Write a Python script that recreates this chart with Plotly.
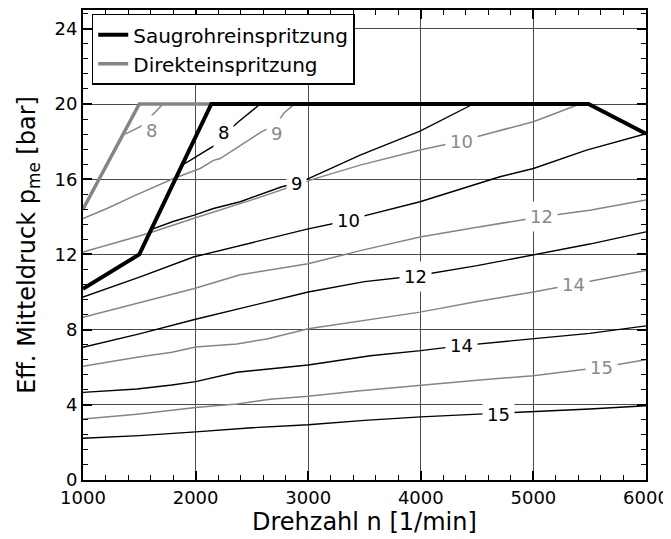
import plotly.graph_objects as go

# ---------------- data ----------------
# full-load boundaries
sri_bound_x = [1000, 1500, 2140, 5490, 6000]
sri_bound_y = [10.17, 12.0, 20.0, 20.0, 18.42]
di_bound_x = [1000, 1500, 2140]
di_bound_y = [14.4, 20.0, 20.0]

# Saugrohreinspritzung contour lines (black)
sri_8_x = [1878, 1952, 2100, 2174, 2248, 2381, 2575]
sri_8_y = [16.75, 17.0, 17.55, 17.81, 18.35, 19.06, 20.0]
sri_9_x = [1597, 1800, 1981, 2159, 2396, 2766, 2899, 3017, 3461, 3993, 4466]
sri_9_y = [13.3, 13.75, 14.08, 14.44, 14.8, 15.6, 15.8, 16.07, 17.28, 18.56, 20.0]
sri_10_x = [1000, 1508, 1981, 2396, 3000, 3354, 3462, 3993, 4703, 5000, 5472, 6000]
sri_10_y = [9.73, 10.8, 11.86, 12.48, 13.36, 13.8, 14.0, 14.8, 16.13, 16.57, 17.55, 18.42]
sri_12_x = [1000, 1500, 2000, 2396, 3000, 3500, 3950, 4500, 5000, 5500, 6000]
sri_12_y = [7.06, 7.77, 8.55, 9.14, 10.0, 10.55, 10.85, 11.4, 11.98, 12.55, 13.2]
sri_14_x = [1000, 1479, 1790, 2000, 2366, 3000, 3551, 4000, 4363, 5000, 5500, 6000]
sri_14_y = [4.66, 4.84, 5.05, 5.23, 5.73, 6.12, 6.61, 6.88, 7.15, 7.5, 7.8, 8.2]
sri_15_x = [1000, 1500, 2000, 2500, 3000, 3500, 4000, 4688, 5000, 5500, 6000]
sri_15_y = [2.22, 2.36, 2.56, 2.78, 2.94, 3.17, 3.36, 3.55, 3.63, 3.78, 3.95]

# Direkteinspritzung contour lines (grey)
di_8_x = [1376, 1508, 1575, 1643, 1701, 1710]
di_8_y = [18.4, 18.8, 19.15, 19.6, 19.95, 20.0]
di_9_x = [1000, 1213, 1449, 1804, 2041, 2159, 2218, 2396, 2588, 2721, 2780, 2869, 2880]
di_9_y = [13.9, 14.44, 15.1, 16.04, 16.57, 17.0, 17.1, 17.8, 18.53, 18.9, 19.5, 19.95, 20.0]
di_10_x = [1000, 1568, 2000, 2500, 3017, 3461, 3993, 4363, 4496, 5000, 5413]
di_10_y = [12.13, 13.1, 13.95, 14.9, 15.95, 16.75, 17.55, 18.03, 18.26, 19.06, 20.0]
di_12_x = [1000, 1500, 1981, 2396, 3000, 3462, 3993, 4500, 5073, 5500, 6000]
di_12_y = [8.66, 9.45, 10.17, 10.92, 11.5, 12.2, 12.93, 13.45, 14.0, 14.35, 14.9]
di_14_x = [1000, 1479, 1790, 2000, 2366, 2632, 3000, 3462, 3993, 4500, 5000, 5353, 6000]
di_14_y = [6.05, 6.53, 6.8, 7.07, 7.24, 7.5, 8.04, 8.44, 8.93, 9.5, 10.0, 10.4, 11.15]
di_15_x = [1000, 1479, 2000, 2366, 2662, 3000, 3462, 4000, 4500, 5000, 5605, 6000]
di_15_y = [3.24, 3.5, 3.86, 4.04, 4.3, 4.45, 4.75, 5.05, 5.3, 5.55, 6.0, 6.4]

# contour label positions
sri_label_text = ["8", "9", "10", "12", "14", "15"]
sri_label_x = [2248, 2899, 3354, 3950, 4363, 4688]
sri_label_y = [18.5, 15.77, 13.8, 10.8, 7.15, 3.5]
di_label_text = ["8", "9", "10", "12", "14", "15"]
di_label_x = [1612, 2721, 4363, 5073, 5353, 5605]
di_label_y = [18.6, 18.44, 18.03, 14.0, 10.4, 6.0]

x_ticks = [1000, 2000, 3000, 4000, 5000, 6000]
y_ticks = [0, 4, 8, 12, 16, 20, 24]

# ---------------- figure ----------------
BLACK = "#000000"
GREY = "#858585"
FONT = "DejaVu Sans"

fig = go.Figure()

di_lines = [(di_8_x, di_8_y), (di_9_x, di_9_y), (di_10_x, di_10_y),
            (di_12_x, di_12_y), (di_14_x, di_14_y), (di_15_x, di_15_y)]
sri_lines = [(sri_8_x, sri_8_y), (sri_9_x, sri_9_y), (sri_10_x, sri_10_y),
             (sri_12_x, sri_12_y), (sri_14_x, sri_14_y), (sri_15_x, sri_15_y)]

for xs, ys in di_lines:
    fig.add_trace(go.Scatter(x=xs, y=ys, mode="lines", showlegend=False,
                             line=dict(color=GREY, width=1.5), hoverinfo="skip"))
for xs, ys in sri_lines:
    fig.add_trace(go.Scatter(x=xs, y=ys, mode="lines", showlegend=False,
                             line=dict(color=BLACK, width=1.4), hoverinfo="skip"))

fig.add_trace(go.Scatter(x=di_bound_x, y=di_bound_y, mode="lines",
                         name="Direkteinspritzung",
                         line=dict(color=GREY, width=3.5)))
fig.add_trace(go.Scatter(x=sri_bound_x, y=sri_bound_y, mode="lines",
                         name="Saugrohreinspritzung",
                         line=dict(color=BLACK, width=4)))

annotations = []
for t, x, y in zip(sri_label_text, sri_label_x, sri_label_y):
    annotations.append(dict(x=x, y=y, xref="x", yref="y", text=t, showarrow=False,
                            font=dict(family=FONT, size=18, color=BLACK),
                            bgcolor="white", borderpad=4))
for t, x, y in zip(di_label_text, di_label_x, di_label_y):
    annotations.append(dict(x=x, y=y, xref="x", yref="y", text=t, showarrow=False,
                            font=dict(family=FONT, size=18, color="#8a8a8a"),
                            bgcolor="white", borderpad=4))

# axis titles
annotations.append(dict(x=0.5, y=-0.056, xref="paper", yref="paper",
                        text="Drehzahl n [1/min]", showarrow=False,
                        xanchor="center", yanchor="top",
                        font=dict(family=FONT, size=24, color=BLACK)))
annotations.append(dict(x=-0.098, y=0.5, xref="paper", yref="paper",
                        text="Eff. Mitteldruck p<sub>me</sub> [bar]", showarrow=False,
                        textangle=-90, xanchor="center", yanchor="middle",
                        font=dict(family=FONT, size=24, color=BLACK)))

axis_common = dict(showline=True, linecolor=BLACK, linewidth=2, mirror="allticks",
                   ticks="inside", ticklen=9, tickwidth=1.5, tickcolor=BLACK,
                   showgrid=True, gridcolor="#4a4a4a", gridwidth=1,
                   zeroline=False, automargin=False,
                   tickfont=dict(family=FONT, size=18, color=BLACK))

fig.update_xaxes(range=[1000, 6000], tickvals=x_ticks,
                 minor=dict(dtick=200, tick0=1000, ticks="inside", ticklen=5,
                            tickwidth=1.2, tickcolor=BLACK, showgrid=False),
                 **axis_common)
fig.update_yaxes(range=[0, 25], tickvals=y_ticks,
                 minor=dict(dtick=0.8, tick0=0, ticks="inside", ticklen=5,
                            tickwidth=1.2, tickcolor=BLACK, showgrid=False),
                 **axis_common)

# the page body adds an 8 px offset; the figure is sized to fill the rest of the window
fig.update_layout(
    width=663, height=531,
    margin=dict(l=75, r=25, t=2, b=59, autoexpand=False),
    paper_bgcolor="white", plot_bgcolor="white",
    font=dict(family=FONT, color=BLACK),
    annotations=annotations,
    legend=dict(x=0.0155, y=0.992, xanchor="left", yanchor="top",
                bgcolor="white", bordercolor=BLACK, borderwidth=1.5,
                font=dict(family=FONT, size=20, color=BLACK),
                traceorder="reversed", tracegroupgap=0, itemwidth=30),
    showlegend=True,
)

fig.write_html("out.html")
